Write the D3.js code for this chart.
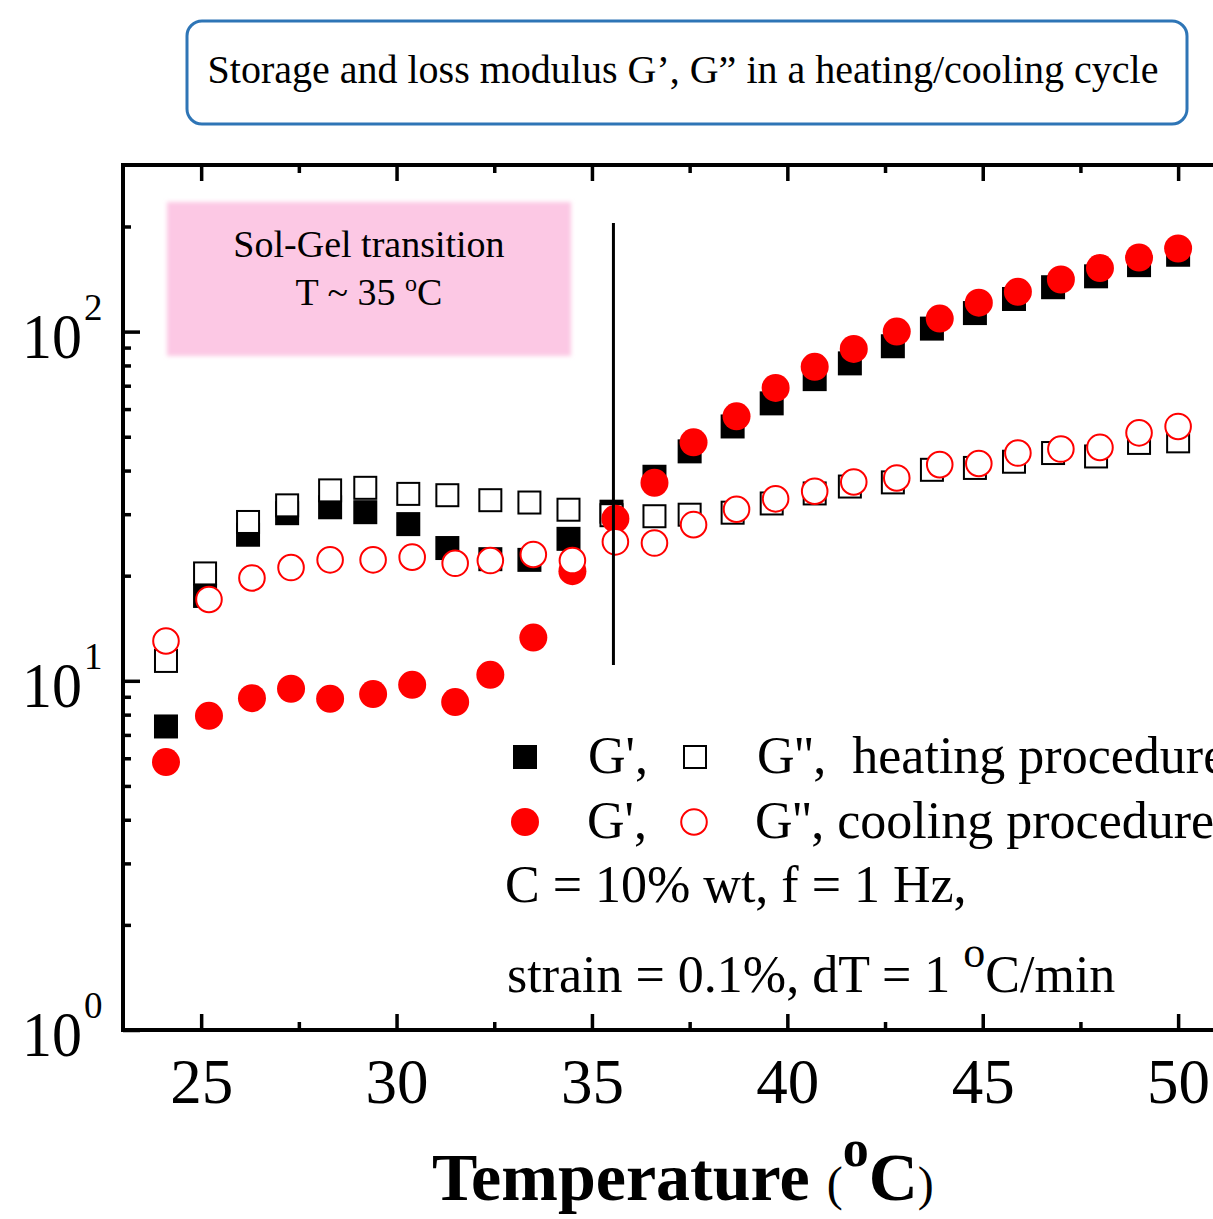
<!DOCTYPE html>
<html>
<head>
<meta charset="utf-8">
<script src="https://cdn.jsdelivr.net/npm/d3@7"></script>
<style>
  body { margin: 0; background: #fff; }
  svg { display: block; }
  text { font-family: "Liberation Serif", "Times New Roman", serif; fill: #000; }
</style>
</head>
<body>
<div id="chart"></div>
<script>
// heating run: temperature (C), G' and G'' (Pa)
const heatT = [24.1, 25.1, 26.2, 27.2, 28.3, 29.2, 30.3, 31.3, 32.4, 33.4, 34.4, 35.5, 36.6,
  37.5, 38.6, 39.6, 40.7, 41.6, 42.7, 43.7, 44.8, 45.8, 46.8, 47.9, 49.0, 50.0];
const heatGp = [7.4, 17.5, 26.2, 30.2, 31.4, 30.4, 28.1, 24.0, 22.3, 22.2, 25.5, 30.5, 38.4,
  45.4, 53.5, 62.3, 73.1, 81.1, 90.8, 102, 113, 124, 134, 144, 155, 166];
const heatGpp = [11.4, 20.3, 28.5, 31.8, 35.1, 35.7, 34.3, 34.0, 32.9, 32.4, 30.9, 29.8, 29.6,
  29.9, 30.3, 32.2, 34.4, 36.0, 37.0, 40.2, 40.7, 42.4, 44.9, 43.9, 48.0, 48.5];

// cooling run
const coolT = [24.1, 25.2, 26.3, 27.3, 28.3, 29.4, 30.4, 31.5, 32.4, 33.5, 34.5, 35.6, 36.6,
  37.6, 38.7, 39.7, 40.7, 41.7, 42.8, 43.9, 44.9, 45.9, 47.0, 48.0, 49.0, 50.0];
const coolGp = [5.85, 7.94, 8.92, 9.49, 8.88, 9.16, 9.74, 8.69, 10.4, 13.3, 20.6, 29.1, 36.9,
  48.2, 57.2, 69.0, 79.3, 89.2, 100, 109, 121, 130, 141, 152, 163, 173];
const coolGpp = [13.0, 17.1, 19.7, 21.1, 22.2, 22.2, 22.6, 21.7, 22.1, 23.0, 22.1, 25.0, 24.8,
  28.0, 31.0, 33.2, 34.9, 37.1, 38.1, 41.6, 41.9, 44.9, 46.1, 46.6, 51.3, 53.5];

const xMajor = [25, 30, 35, 40, 45, 50];
const xMinor = [27.5, 32.5, 37.5, 42.5, 47.5];
const yMajor = [1, 10, 100];
const yExponents = ["0", "1", "2"];
const yMinor = [2, 3, 4, 5, 6, 7, 8, 9, 20, 30, 40, 50, 60, 70, 80, 90, 200];
const transitionT = 35.55;

const width = 1213, height = 1219;
const serif = '"Liberation Serif", "Times New Roman", serif';

const svg = d3.select("#chart").append("svg")
  .attr("width", width)
  .attr("height", height);

const defs = svg.append("defs");
defs.append("filter").attr("id", "soft")
  .attr("x", "-5%").attr("y", "-10%").attr("width", "110%").attr("height", "120%")
  .append("feGaussianBlur").attr("stdDeviation", 2);

const x = d3.scaleLinear().domain([23, 51]).range([123, 1217.2]);
const y = d3.scaleLog().domain([1, 300]).range([1030, 165]);

// title box
svg.append("rect")
  .attr("x", 187).attr("y", 21).attr("width", 1000).attr("height", 103)
  .attr("rx", 15)
  .attr("fill", "#fff").attr("stroke", "#2e75b6").attr("stroke-width", 3);
svg.append("text")
  .attr("x", 683).attr("y", 83)
  .attr("text-anchor", "middle")
  .style("font-size", "40px")
  .text("Storage and loss modulus G\u2019, G\u201D in a heating/cooling cycle");

// pink annotation
svg.append("rect")
  .attr("x", 167).attr("y", 202).attr("width", 404).attr("height", 154)
  .attr("fill", "#fcc8e4")
  .attr("filter", "url(#soft)");
svg.append("text")
  .attr("x", 369).attr("y", 257)
  .attr("text-anchor", "middle")
  .style("font-size", "38px")
  .text("Sol-Gel transition");
const t2 = svg.append("text")
  .attr("x", 369).attr("y", 305)
  .attr("text-anchor", "middle")
  .style("font-size", "38px");
t2.append("tspan").text("T ~ 35 ");
t2.append("tspan").attr("dy", -14).style("font-size", "24px").text("o");
t2.append("tspan").attr("dy", 14).text("C");

// markers: heating G' under G'', then cooling G' and G''
const sq = 24;
svg.append("g").selectAll("rect")
  .data(heatT)
  .join("rect")
  .attr("x", (d) => x(d) - sq / 2)
  .attr("y", (d, i) => y(heatGp[i]) - sq / 2)
  .attr("width", sq).attr("height", sq)
  .attr("fill", "#000");
svg.append("g").selectAll("rect")
  .data(heatT)
  .join("rect")
  .attr("x", (d) => x(d) - (sq - 2) / 2)
  .attr("y", (d, i) => y(heatGpp[i]) - (sq - 2) / 2)
  .attr("width", sq - 2).attr("height", sq - 2)
  .attr("fill", "#fff").attr("stroke", "#000").attr("stroke-width", 2);
svg.append("g").selectAll("circle")
  .data(coolT)
  .join("circle")
  .attr("cx", (d) => x(d))
  .attr("cy", (d, i) => y(coolGp[i]))
  .attr("r", 14)
  .attr("fill", "#ff0000");
svg.append("g").selectAll("circle")
  .data(coolT)
  .join("circle")
  .attr("cx", (d) => x(d))
  .attr("cy", (d, i) => y(coolGpp[i]))
  .attr("r", 12.8)
  .attr("fill", "#fff").attr("stroke", "#ff0000").attr("stroke-width", 2);

// transition line
svg.append("line")
  .attr("x1", x(transitionT)).attr("x2", x(transitionT))
  .attr("y1", 223).attr("y2", 665)
  .attr("stroke", "#000").attr("stroke-width", 3);

// axes, ticks pointing inward
const bottomAxis = svg.append("g")
  .attr("transform", "translate(0,1030)")
  .call(d3.axisBottom(x).tickValues(xMajor).tickSizeInner(-16).tickSizeOuter(0).tickPadding(28));
bottomAxis.selectAll("text").style("font-size", "63px").style("font-family", serif).attr("fill", "#000");
svg.append("g")
  .attr("transform", "translate(0,1030)")
  .call(d3.axisBottom(x).tickValues(xMinor).tickSize(-8).tickFormat(""));
svg.append("g")
  .attr("transform", "translate(0,165)")
  .call(d3.axisTop(x).tickValues(xMajor).tickSize(-16).tickFormat(""));
svg.append("g")
  .attr("transform", "translate(0,165)")
  .call(d3.axisTop(x).tickValues(xMinor).tickSize(-8).tickFormat(""));
svg.append("g")
  .attr("transform", "translate(123,0)")
  .call(d3.axisLeft(y).tickValues(yMajor).tickSize(-17).tickFormat(""));
svg.append("g")
  .attr("transform", "translate(123,0)")
  .call(d3.axisLeft(y).tickValues(yMinor).tickSize(-8).tickFormat(""));
svg.selectAll(".domain").remove();
svg.selectAll(".tick line").attr("stroke", "#000").attr("stroke-width", 3.5);

// frame
svg.append("path")
  .attr("d", `M${x(51) + 10},165H123V1030H${x(51) + 10}`)
  .attr("fill", "none").attr("stroke", "#000").attr("stroke-width", 4);

// y labels 10^n
yMajor.forEach((v, i) => {
  svg.append("text")
    .attr("x", 82).attr("y", y(v) + 26)
    .attr("text-anchor", "end")
    .style("font-size", "63px")
    .attr("textLength", 60).attr("lengthAdjust", "spacingAndGlyphs")
    .text("10");
  svg.append("text")
    .attr("x", 84).attr("y", y(v) - 12)
    .style("font-size", "37px")
    .text(yExponents[i]);
});

// x title
const xt = svg.append("text")
  .attr("x", 432).attr("y", 1200)
  .style("font-size", "68px");
xt.append("tspan").style("font-weight", "bold").text("Temperature ");
xt.append("tspan").style("font-size", "48px").text("(");
xt.append("tspan").attr("dy", -34).style("font-size", "52px").style("font-weight", "bold").text("o");
xt.append("tspan").attr("dy", 34).style("font-weight", "bold").text("C");
xt.append("tspan").style("font-size", "48px").text(")");

// legend
const lg = svg.append("g").style("font-size", "52px");
lg.append("rect").attr("x", 513).attr("y", 745).attr("width", 24).attr("height", 24).attr("fill", "#000");
lg.append("rect").attr("x", 684).attr("y", 746).attr("width", 22).attr("height", 22)
  .attr("fill", "#fff").attr("stroke", "#000").attr("stroke-width", 2);
lg.append("text").attr("x", 588).attr("y", 773).text("G',");
lg.append("text").attr("x", 757).attr("y", 773).attr("xml:space", "preserve").text("G'',  heating procedure");
lg.append("circle").attr("cx", 525).attr("cy", 822).attr("r", 14).attr("fill", "#ff0000");
lg.append("circle").attr("cx", 694).attr("cy", 822).attr("r", 12.8)
  .attr("fill", "#fff").attr("stroke", "#ff0000").attr("stroke-width", 2);
lg.append("text").attr("x", 587).attr("y", 838).text("G',");
lg.append("text").attr("x", 755).attr("y", 838).text("G'', cooling procedure");
lg.append("text").attr("x", 505).attr("y", 902).text("C = 10% wt, f = 1 Hz,");
const st = lg.append("text").attr("x", 507).attr("y", 992);
st.append("tspan").text("strain = 0.1%, dT = 1 ");
st.append("tspan").attr("dy", -25).style("font-size", "44px").text("o");
st.append("tspan").attr("dy", 25).text("C/min");
</script>
</body>
</html>
